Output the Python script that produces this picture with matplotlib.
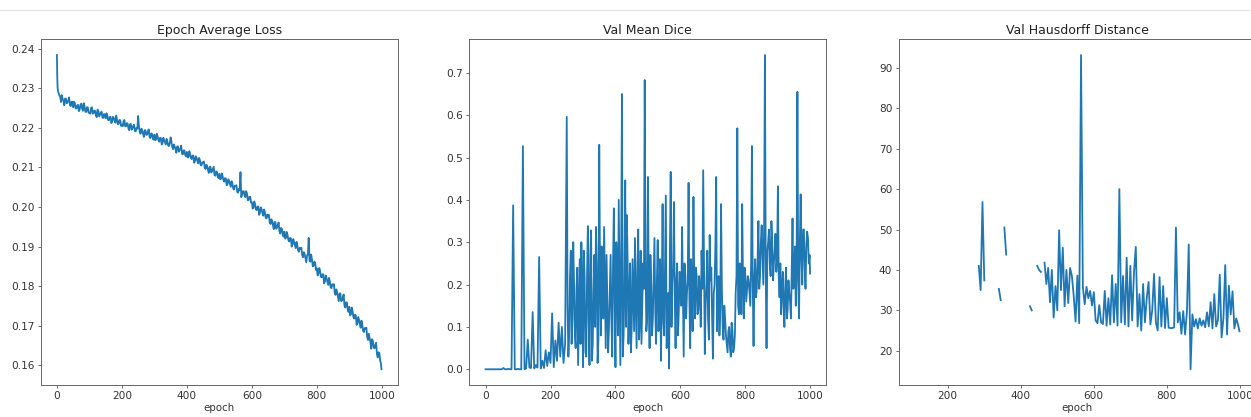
import numpy as np
import matplotlib
matplotlib.use("Agg")
import matplotlib.pyplot as plt
from matplotlib.lines import Line2D

# epoch average loss (every 5 epochs after the first few)
loss_epochs = [0, 1, 2, 3] + list(range(5, 1000, 5)) + [999]
loss_values = [
    0.2384, 0.2330, 0.2303, 0.2294,
    0.2288, 0.2279, 0.2283, 0.2268, 0.2274, 0.2262, 0.2270, 0.2258, 0.2266,
    0.2252, 0.2263, 0.2249, 0.2258, 0.2246, 0.2261, 0.2243, 0.2255, 0.2240, 0.2252,
    0.2238, 0.2250, 0.2236, 0.2244, 0.2231, 0.2246, 0.2229, 0.2238, 0.2226, 0.2235,
    0.2224, 0.2232, 0.2219, 0.2228, 0.2216, 0.2225, 0.2213, 0.2221, 0.2210, 0.2219,
    0.2208, 0.2217, 0.2204, 0.2212, 0.2199, 0.2209, 0.2195, 0.2205, 0.2192, 0.2200,
    0.2230, 0.2190, 0.2198, 0.2186, 0.2194, 0.2182, 0.2190, 0.2178, 0.2186, 0.2174,
    0.2183, 0.2170, 0.2178, 0.2165, 0.2174, 0.2161, 0.2169, 0.2158, 0.2166, 0.2154,
    0.2176, 0.2152, 0.2158, 0.2146, 0.2153, 0.2140, 0.2148, 0.2135, 0.2143, 0.2131,
    0.2139, 0.2126, 0.2134, 0.2121, 0.2130, 0.2116, 0.2124, 0.2110, 0.2119, 0.2105,
    0.2113, 0.2099, 0.2107, 0.2093, 0.2101, 0.2087, 0.2096, 0.2081, 0.2090, 0.2076,
    0.2084, 0.2071, 0.2078, 0.2064, 0.2072, 0.2057, 0.2066, 0.2051, 0.2060, 0.2044,
    0.2053, 0.2038, 0.2046, 0.2088, 0.2032, 0.2040, 0.2025, 0.2034, 0.2018, 0.2026,
    0.2012, 0.1998, 0.2007, 0.1992, 0.2001, 0.1985, 0.1994, 0.1978, 0.1987, 0.1971,
    0.1976, 0.1961, 0.1969, 0.1953, 0.1962, 0.1945, 0.1955, 0.1938, 0.1947, 0.1930,
    0.1938, 0.1922, 0.1929, 0.1913, 0.1921, 0.1905, 0.1912, 0.1896, 0.1903, 0.1887,
    0.1894, 0.1878, 0.1886, 0.1870, 0.1878, 0.1922, 0.1862, 0.1868, 0.1852, 0.1858,
    0.1845, 0.1832, 0.1839, 0.1822, 0.1830, 0.1812, 0.1820, 0.1803, 0.1812, 0.1795,
    0.1802, 0.1784, 0.1792, 0.1774, 0.1781, 0.1762, 0.1770, 0.1752, 0.1759, 0.1741,
    0.1748, 0.1729, 0.1737, 0.1718, 0.1726, 0.1706, 0.1715, 0.1695, 0.1703, 0.1684,
    0.1692, 0.1672, 0.1680, 0.1659, 0.1666, 0.1645, 0.1651, 0.1628, 0.1633, 0.1612,
    0.1590,
]
# in-between epochs 7.5 ... 997.5
loss_mid_epochs = list(np.arange(7.5, 1000, 5))
loss_mid_values = [
    0.2282, 0.2265, 0.2273, 0.2257, 0.2274, 0.2264, 0.2277, 0.2255, 0.2266,
    0.2266, 0.2249, 0.2257, 0.2242, 0.2259, 0.2249, 0.2262, 0.2241, 0.2252, 0.2238,
    0.2236, 0.2252, 0.2237, 0.2243, 0.2227, 0.2243, 0.2233, 0.2241, 0.2225, 0.2232,
    0.2237, 0.2220, 0.2227, 0.2212, 0.2228, 0.2218, 0.2231, 0.2209, 0.2220, 0.2205,
    0.2204, 0.2220, 0.2204, 0.2211, 0.2194, 0.2210, 0.2199, 0.2208, 0.2191, 0.2198,
    0.2203, 0.2185, 0.2193, 0.2177, 0.2194, 0.2183, 0.2196, 0.2174, 0.2185, 0.2170,
    0.2169, 0.2185, 0.2169, 0.2175, 0.2158, 0.2175, 0.2164, 0.2172, 0.2155, 0.2162,
    0.2164, 0.2146, 0.2153, 0.2137, 0.2153, 0.2143, 0.2155, 0.2133, 0.2143, 0.2128,
    0.2125, 0.2141, 0.2124, 0.2130, 0.2112, 0.2128, 0.2116, 0.2124, 0.2106, 0.2113,
    0.2115, 0.2096, 0.2103, 0.2086, 0.2102, 0.2090, 0.2102, 0.2079, 0.2089, 0.2073,
    0.2070, 0.2085, 0.2068, 0.2073, 0.2055, 0.2070, 0.2058, 0.2065, 0.2047, 0.2054,
    0.2055, 0.2036, 0.2042, 0.2025, 0.2040, 0.2029, 0.2040, 0.2017, 0.2026, 0.2011,
    0.1996, 0.2014, 0.1994, 0.2001, 0.1980, 0.1999, 0.1985, 0.1994, 0.1973, 0.1981,
    0.1980, 0.1957, 0.1965, 0.1944, 0.1962, 0.1948, 0.1961, 0.1933, 0.1945, 0.1925,
    0.1920, 0.1937, 0.1916, 0.1922, 0.1900, 0.1919, 0.1904, 0.1912, 0.1890, 0.1897,
    0.1897, 0.1873, 0.1881, 0.1860, 0.1880, 0.1864, 0.1880, 0.1850, 0.1862, 0.1841,
    0.1827, 0.1846, 0.1824, 0.1830, 0.1807, 0.1827, 0.1812, 0.1821, 0.1797, 0.1805,
    0.1805, 0.1778, 0.1785, 0.1762, 0.1782, 0.1764, 0.1779, 0.1746, 0.1759, 0.1735,
    0.1726, 0.1746, 0.1722, 0.1728, 0.1702, 0.1722, 0.1704, 0.1713, 0.1687, 0.1694,
    0.1695, 0.1664, 0.1670, 0.1642, 0.1662, 0.1643, 0.1657, 0.1620, 0.1631, 0.1604,
]

# validation mean dice, every 5 epochs
dice_epochs = list(range(0, 1000, 5)) + [999]
dice_values = [
    0.0, 0.0, 0.0, 0.0, 0.0, 0.0, 0.0, 0.0, 0.0, 0.0,
    0.0, 0.003, 0.0, 0.0, 0.001, 0.0, 0.0, 0.387, 0.0, 0.0,
    0.001, 0.0, 0.0, 0.527, 0.0, 0.002, 0.070, 0.004, 0.003, 0.135,
    0.002, 0.010, 0.004, 0.265, 0.002, 0.020, 0.003, 0.045, 0.008, 0.040,
    0.015, 0.132, 0.005, 0.068, 0.020, 0.110, 0.030, 0.100, 0.015, 0.060,
    0.596, 0.030, 0.220, 0.060, 0.300, 0.080, 0.190, 0.010, 0.260, 0.300,
    0.005, 0.215, 0.030, 0.338, 0.010, 0.328, 0.060, 0.270, 0.336, 0.015,
    0.530, 0.080, 0.270, 0.336, 0.050, 0.160, 0.100, 0.270, 0.030, 0.380,
    0.005, 0.230, 0.400, 0.010, 0.650, 0.080, 0.446, 0.364, 0.060, 0.250,
    0.100, 0.170, 0.310, 0.050, 0.330, 0.120, 0.060, 0.250, 0.683, 0.090,
    0.454, 0.050, 0.200, 0.120, 0.310, 0.060, 0.305, 0.150, 0.020, 0.390,
    0.080, 0.410, 0.100, 0.002, 0.466, 0.200, 0.395, 0.050, 0.250, 0.140,
    0.200, 0.336, 0.030, 0.220, 0.180, 0.440, 0.050, 0.200, 0.407, 0.120,
    0.220, 0.140, 0.180, 0.280, 0.470, 0.036, 0.200, 0.120, 0.317, 0.240,
    0.025, 0.200, 0.454, 0.150, 0.080, 0.390, 0.100, 0.150, 0.080, 0.040,
    0.100, 0.030, 0.090, 0.050, 0.180, 0.569, 0.130, 0.230, 0.390, 0.120,
    0.220, 0.190, 0.210, 0.150, 0.527, 0.055, 0.260, 0.190, 0.350, 0.220,
    0.340, 0.200, 0.742, 0.050, 0.300, 0.250, 0.350, 0.210, 0.280, 0.230,
    0.432, 0.170, 0.130, 0.230, 0.100, 0.240, 0.140, 0.180, 0.120, 0.356,
    0.220, 0.150, 0.655, 0.120, 0.413, 0.200, 0.330, 0.190, 0.325, 0.250,
    0.226,
]
# in-between validation points from epoch 252.5 on (the band is denser there)
dice_mid_epochs = list(np.arange(252.5, 1000, 5))
dice_mid_values = [
    0.15, 0.08, 0.28, 0.12, 0.20, 0.05, 0.24, 0.14, 0.06, 0.18,
    0.28, 0.04, 0.22, 0.12, 0.27, 0.02, 0.18, 0.10, 0.25, 0.07,
    0.22, 0.29, 0.12, 0.20, 0.27, 0.04, 0.18, 0.12, 0.25, 0.16,
    0.30, 0.08, 0.21, 0.27, 0.03, 0.20, 0.10, 0.25, 0.17, 0.04,
    0.26, 0.09, 0.18, 0.22, 0.07, 0.28, 0.15, 0.19, 0.26, 0.12,
    0.18, 0.27, 0.08, 0.22, 0.14, 0.21, 0.09, 0.26, 0.17, 0.11,
    0.24, 0.05, 0.18, 0.27, 0.10, 0.24, 0.17, 0.21, 0.08, 0.23,
    0.15, 0.19, 0.25, 0.12, 0.21, 0.17, 0.26, 0.09, 0.20, 0.24,
    0.13, 0.22, 0.10, 0.19, 0.26, 0.15, 0.28, 0.07, 0.21, 0.12,
    0.18, 0.29, 0.09, 0.22, 0.14, 0.19, 0.07, 0.12, 0.06, 0.09,
    0.05, 0.11, 0.04, 0.08, 0.22, 0.15, 0.25, 0.13, 0.21, 0.24,
    0.16, 0.22, 0.18, 0.25, 0.20, 0.21, 0.17, 0.26, 0.19, 0.30,
    0.27, 0.33, 0.23, 0.28, 0.33, 0.22, 0.30, 0.25, 0.32, 0.26,
    0.22, 0.25, 0.19, 0.15, 0.19, 0.12, 0.21, 0.16, 0.23, 0.19,
    0.29, 0.24, 0.21, 0.30, 0.26, 0.33, 0.24, 0.29, 0.31, 0.27,
]

# validation hausdorff distance, every 5 epochs from 110 (nan = not defined)
nan = np.nan
hd_epochs = list(range(110, 1000, 5)) + [999]
hd_values = [
    38.0, nan, nan, nan, nan, nan, nan, nan, nan, nan,          # 110-155
    nan, nan, nan, nan, nan, nan, nan, nan, nan, nan,           # 160-205
    nan, nan, nan, nan, nan, nan, nan, nan, nan, nan,           # 210-255
    nan, nan, nan, nan, nan, 41.0, 35.0, 56.8, 37.4, nan,       # 260-305
    nan, nan, nan, nan, nan, nan, 35.3, 32.5, nan, 50.5,        # 310-355
    43.8, nan, nan, nan, nan, nan, nan, nan, nan, nan,          # 360-405
    nan, nan, nan, 31.0, 30.0, nan, nan, 41.0, 40.0, 39.5,      # 410-455
    nan, 41.8, 36.5, 40.5, 32.0, 40.0, 28.2, 36.0, 30.0, 49.8,  # 460-505
    35.0, 45.5, 31.0, 40.0, 31.8, 40.5, 38.5, 33.5, 27.2, 38.6, # 510-555
    26.8, 93.2, 35.7, 31.5, 35.8, 33.0, 34.8, 31.2, 34.5, 27.5, # 560-605
    26.8, 31.3, 27.0, 26.6, 34.8, 26.2, 33.0, 26.5, 38.7, 27.0, # 610-655
    36.5, 26.2, 60.0, 27.0, 38.5, 26.5, 43.0, 26.0, 41.0, 27.5, # 660-705
    39.3, 45.7, 26.0, 34.0, 25.0, 36.5, 27.0, 33.0, 37.0, 26.5, # 710-755
    30.0, 39.0, 27.0, 25.0, 38.2, 26.0, 36.0, 25.6, 33.0, 25.7, # 760-805
    25.6, 25.6, 25.8, 50.5, 27.0, 29.5, 24.2, 29.8, 24.0, 29.5, # 810-855
    46.3, 15.4, 29.0, 26.0, 27.8, 25.5, 28.0, 26.2, 27.5, 25.8, # 860-905
    29.5, 26.0, 32.0, 25.5, 34.0, 26.0, 27.5, 38.8, 23.3, 28.0, # 910-955
    41.2, 24.0, 36.1, 29.0, 34.7, 25.5, 28.0, 26.5,             # 960-995
    24.8,
]


def merged(xs_a, ys_a, xs_b, ys_b):
    pairs = sorted(zip(list(xs_a) + list(xs_b), list(ys_a) + list(ys_b)))
    return [p[0] for p in pairs], [p[1] for p in pairs]


loss_x, loss_y = merged(loss_epochs, loss_values, loss_mid_epochs, loss_mid_values)
dice_x, dice_y = merged(dice_epochs, dice_values, dice_mid_epochs, dice_mid_values)

panels = [
    ("Epoch Average Loss", loss_x, loss_y),
    ("Val Mean Dice", dice_x, dice_y),
    ("Val Hausdorff Distance", hd_epochs, hd_values),
]

W, H = 1251, 417
fig = plt.figure(figsize=(W / 100, H / 100), dpi=100)
fig.patch.set_facecolor("white")

# thin notebook cell border along the top
fig.add_artist(Line2D([0, 1], [1 - 10 / H, 1 - 10 / H], color="#e2e2e2",
                      linewidth=0.8, transform=fig.transFigure))

lefts = [40.7, 469.3, 898.7]
ax_w, top, bottom = 357.0, 39.3, 385.0

for left, (title, xs, ys) in zip(lefts, panels):
    ax = fig.add_axes([left / W, 1 - bottom / H, ax_w / W, (bottom - top) / H])
    ax.plot(xs, ys, color="#1f77b4", linewidth=1.3)
    ax.set_title(title, fontsize=9.0, color="#222222", pad=4.0)
    ax.set_xlabel("epoch", fontsize=7.4, color="#333333", labelpad=1.0)
    ax.tick_params(labelsize=7.6, labelcolor="#333333", color="#555555",
                   length=2.4, width=0.6, pad=2.2)
    for spine in ax.spines.values():
        spine.set_color("#666666")
        spine.set_linewidth(0.7)

fig.savefig("out.png", dpi=100, facecolor="white")
